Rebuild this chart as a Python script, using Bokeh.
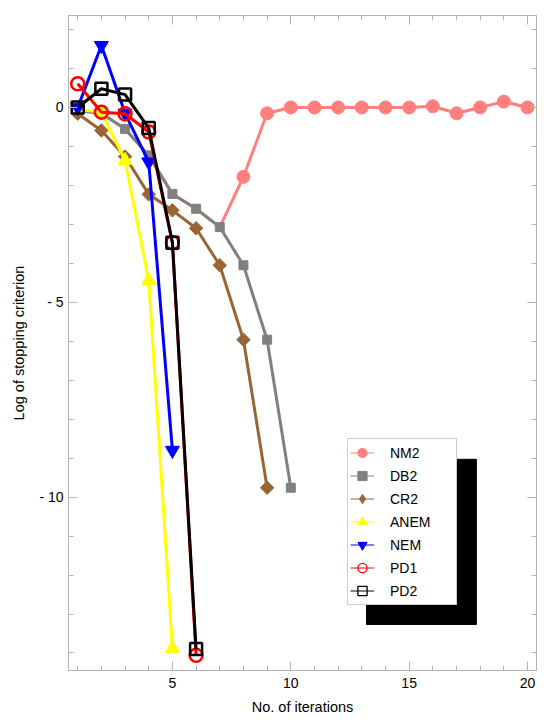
import math
from bokeh.plotting import figure
from bokeh.models import SingleIntervalTicker, LinearAxis, Range1d, Legend, LegendItem
from bokeh.embed import file_html
from bokeh.resources import INLINE

iters_nm2 = list(range(1, 21))
nm2 = [-0.08, -0.15, -0.55, -1.23, -2.22, -2.6, -3.07, -1.78, -0.15, 0, 0, 0, 0, 0, 0, 0.03, -0.15, 0, 0.15, 0]
iters_db2 = list(range(1, 11))
db2 = [-0.08, -0.15, -0.55, -1.23, -2.22, -2.6, -3.07, -4.05, -5.96, -9.76]
iters_cr2 = list(range(1, 10))
cr2 = [-0.16, -0.59, -1.26, -2.23, -2.64, -3.1, -4.05, -5.96, -9.76]
iters_anem = [1, 2, 3, 4, 5]
anem = [-0.05, -0.12, -1.36, -4.44, -13.88]
iters_nem = [1, 2, 3, 4, 5]
nem = [0.0, 1.59, -0.15, -1.4, -8.8]
iters_pd1 = [1, 2, 3, 4, 5, 6]
pd1 = [0.61, -0.12, -0.16, -0.63, -3.47, -14.06]
iters_pd2 = [1, 2, 3, 4, 5, 6]
pd2 = [0.0, 0.48, 0.33, -0.53, -3.47, -13.9]
series_names = ["NM2", "DB2", "CR2", "ANEM", "NEM", "PD1", "PD2"]

FONT = "Liberation Sans"
AX = "#b4b4b4"

p = figure(width=542, height=720, output_backend="svg", toolbar_location=None,
           x_range=Range1d(0.61, 20.38), y_range=Range1d(-14.45, 2.36),
           min_border_left=68, min_border_right=6, min_border_top=15, min_border_bottom=50)
p.xgrid.visible = False
p.ygrid.visible = False
p.outline_line_color = AX
p.background_fill_color = "white"
p.border_fill_color = "white"

# decorative legend shadow
p.quad(left=[13.2], right=[17.84], top=[-9.03], bottom=[-13.27], color="black")

def style_axis(ax, labels=True):
    ax.ticker = SingleIntervalTicker(interval=5, num_minor_ticks=5)
    ax.axis_line_color = AX
    ax.major_tick_line_color = AX
    ax.minor_tick_line_color = AX
    ax.major_tick_in = 9
    ax.major_tick_out = 0
    ax.minor_tick_in = 5
    ax.minor_tick_out = 0
    ax.major_label_text_font = FONT
    ax.major_label_text_font_size = "14px"
    ax.major_label_text_color = "black"
    ax.axis_label_text_font = FONT
    ax.axis_label_text_font_size = "14.5px"
    ax.axis_label_text_font_style = "normal"
    ax.axis_label_text_color = "black"
    if not labels:
        ax.major_label_text_color = None
        ax.major_label_text_alpha = 0

style_axis(p.xaxis[0])
style_axis(p.yaxis[0])
p.xaxis.axis_label = "No. of iterations"
p.yaxis.axis_label = "Log of stopping criterion"
p.xaxis.major_label_standoff = 7
p.xaxis.axis_label_standoff = 8
p.yaxis.major_label_standoff = 5
p.yaxis.axis_label_standoff = 9
p.yaxis.major_label_overrides = {0: "0", -5: "- 5", -10: "- 10"}

top_ax = LinearAxis()
right_ax = LinearAxis()
style_axis(top_ax, labels=False)
style_axis(right_ax, labels=False)
p.add_layout(top_ax, "above")
p.add_layout(right_ax, "right")

LW = 3
styles = {
    "NM2": dict(color="#ff7f7f", marker="circle", size=13),
    "DB2": dict(color="#808080", marker="square", size=9),
    "CR2": dict(color="#996633", marker="square", size=9.5, angle=math.pi / 4, legend_marker="diamond"),
    "ANEM": dict(color="#ffff00", marker="triangle", size=14),
    "NEM": dict(color="#0000ff", marker="inverted_triangle", size=14),
    "PD1": dict(color="#ff0000", marker="circle", size=13, open=True),
    "PD2": dict(color="black", marker="square", size=12, open=True),
}

def draw(name, xs, ys, mask=None, visible=True, lw=LW, mlw=2.5):
    st = styles[name]
    lr = p.line(xs, ys, color=st["color"], line_width=lw, visible=visible)
    if mask is not None:
        xs = [xs[i] for i in mask]
        ys = [ys[i] for i in mask]
    marker = st["marker"] if visible else st.get("legend_marker", st["marker"])
    kw = dict(marker=marker, size=st["size"], angle=st.get("angle", 0), visible=visible)
    if st.get("open"):
        sr = p.scatter(xs, ys, fill_color=None, line_color=st["color"], line_width=mlw, **kw)
    else:
        sr = p.scatter(xs, ys, color=st["color"], **kw)
    return lr, sr

# NM2 markers only where it departs from DB2; before that it is hidden under DB2
nm2_mask = [i for i in range(len(nm2)) if i >= len(db2) or nm2[i] != db2[i]]
data = {
    "NM2": (iters_nm2, nm2),
    "DB2": (iters_db2, db2),
    "CR2": (iters_cr2, cr2),
    "ANEM": (iters_anem, anem),
    "NEM": (iters_nem, nem),
    "PD1": (iters_pd1, pd1),
    "PD2": (iters_pd2, pd2),
}
for name in series_names:
    xs, ys = data[name]
    draw(name, xs, ys, nm2_mask if name == "NM2" else None)

# hidden proxies used only for the legend (thin lines like the reference legend)
items = []
for name in series_names:
    xs, ys = data[name]
    lr, sr = draw(name, xs, ys, visible=False, lw=1, mlw=1.3)
    items.append(LegendItem(label=name, renderers=[lr, sr]))

lg = Legend(items=items, location=(279, 65))
lg.padding = 2
lg.margin = 0
lg.spacing = 0
lg.glyph_height = 23
lg.glyph_width = 24
lg.label_height = 23
lg.label_standoff = 16
lg.label_width = 64
lg.label_text_font = FONT
lg.label_text_font_size = "14px"
lg.label_text_color = "black"
lg.border_line_color = "#999999"
lg.border_line_width = 1
lg.background_fill_alpha = 1
lg.background_fill_color = "white"
p.add_layout(lg, "center")

open("out.html", "w").write(file_html(p, INLINE))
